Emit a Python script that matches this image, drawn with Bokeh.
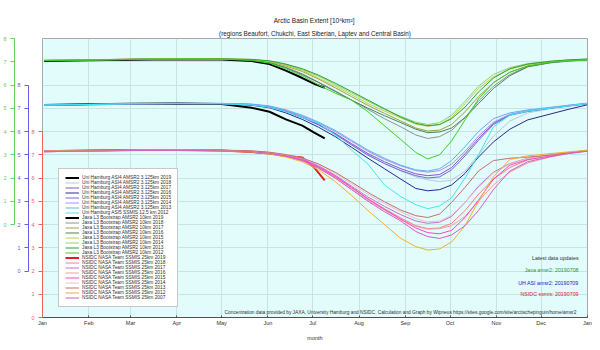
from bokeh.plotting import figure
from bokeh.models import Range1d, LinearAxis, FixedTicker, Title, Label, Legend, LegendItem, ColumnDataSource
from bokeh.embed import file_html
from bokeh.resources import INLINE

FONT = "Liberation Sans"

# ---- data (day of year, extent in 10^6 km^2) ----
days = [1, 30, 60, 90, 120, 140, 152, 163, 174, 185, 196, 207, 218, 229, 240, 250, 258, 266, 274, 283, 292, 302, 313, 325, 340, 352, 365]
days_2019 = [1, 30, 60, 90, 120, 140, 152, 163, 174, 182, 189]

month_ticks = [0, 31, 59, 90, 120, 151, 181, 212, 243, 273, 304, 334, 365]
month_labels = ["Jan", "Feb", "Mar", "Apr", "May", "Jun", "Jul", "Aug", "Sep", "Oct", "Nov", "Dec", "Jan"]

# Uni Hamburg (blue axis)
uh_2019 = [7.14, 7.17, 7.19, 7.20, 7.18, 7.02, 6.85, 6.52, 6.25, 5.95, 5.70]
uh_2018 = [7.12, 7.15, 7.18, 7.20, 7.20, 7.15, 7.05, 6.86, 6.60, 6.28, 5.90, 5.45, 5.00, 4.62, 4.30, 4.05, 3.92, 3.85, 3.90, 4.30, 5.00, 5.80, 6.45, 6.80, 6.98, 7.08, 7.18]
uh_2017 = [7.14, 7.16, 7.19, 7.20, 7.20, 7.16, 7.07, 6.88, 6.62, 6.30, 5.92, 5.48, 5.05, 4.70, 4.40, 4.18, 4.10, 4.15, 4.45, 5.05, 5.70, 6.35, 6.72, 6.88, 7.00, 7.10, 7.20]
uh_2016 = [7.13, 7.16, 7.18, 7.20, 7.19, 7.13, 7.02, 6.80, 6.52, 6.18, 5.78, 5.32, 4.85, 4.40, 3.95, 3.55, 3.45, 3.50, 3.70, 4.20, 4.90, 5.55, 6.10, 6.50, 6.75, 6.95, 7.15]
uh_2015 = [7.15, 7.17, 7.19, 7.21, 7.20, 7.16, 7.06, 6.86, 6.60, 6.28, 5.88, 5.42, 4.98, 4.62, 4.32, 4.10, 4.00, 4.05, 4.35, 4.95, 5.62, 6.30, 6.70, 6.86, 7.00, 7.10, 7.20]
uh_2014 = [7.14, 7.16, 7.19, 7.20, 7.20, 7.17, 7.08, 6.90, 6.66, 6.36, 6.00, 5.58, 5.15, 4.80, 4.52, 4.32, 4.25, 4.32, 4.60, 5.15, 5.80, 6.40, 6.74, 6.90, 7.02, 7.12, 7.21]
uh_2013 = [7.15, 7.17, 7.20, 7.21, 7.21, 7.18, 7.10, 6.93, 6.70, 6.40, 6.05, 5.62, 5.20, 4.85, 4.55, 4.35, 4.30, 4.40, 4.75, 5.35, 6.00, 6.55, 6.80, 6.93, 7.04, 7.13, 7.22]
uh_2012 = [7.13, 7.16, 7.19, 7.20, 7.19, 7.14, 7.04, 6.85, 6.60, 6.35, 5.85, 5.20, 4.60, 3.70, 3.20, 2.85, 2.68, 2.80, 3.15, 4.00, 5.00, 6.20, 6.70, 6.88, 7.00, 7.10, 7.20]

# Jaxa (green axis)
jaxa_2019 = [7.03, 7.06, 7.09, 7.11, 7.10, 7.03, 6.90, 6.62, 6.30, 6.05, 5.88]
jaxa_2018 = [7.05, 7.08, 7.10, 7.12, 7.12, 7.08, 6.97, 6.76, 6.48, 6.12, 5.75, 5.35, 4.95, 4.55, 4.20, 3.85, 3.70, 3.78, 4.05, 4.60, 5.30, 5.95, 6.45, 6.80, 6.95, 7.02, 7.08]
jaxa_2017 = [7.06, 7.08, 7.11, 7.12, 7.12, 7.09, 7.00, 6.82, 6.58, 6.25, 5.88, 5.50, 5.12, 4.78, 4.45, 4.15, 4.02, 4.06, 4.30, 4.85, 5.50, 6.10, 6.55, 6.82, 6.98, 7.05, 7.10]
jaxa_2016 = [7.05, 7.07, 7.10, 7.11, 7.11, 7.07, 6.96, 6.74, 6.45, 6.10, 5.72, 5.35, 5.00, 4.68, 4.38, 4.10, 3.95, 3.98, 4.15, 4.60, 5.20, 5.85, 6.40, 6.78, 6.96, 7.04, 7.08]
jaxa_2015 = [7.07, 7.09, 7.11, 7.12, 7.12, 7.10, 7.02, 6.86, 6.62, 6.30, 5.95, 5.58, 5.20, 4.88, 4.58, 4.32, 4.22, 4.30, 4.60, 5.20, 5.85, 6.35, 6.68, 6.88, 7.00, 7.06, 7.10]
jaxa_2014 = [7.06, 7.08, 7.10, 7.12, 7.12, 7.10, 7.03, 6.88, 6.66, 6.38, 6.02, 5.66, 5.30, 4.95, 4.65, 4.40, 4.30, 4.38, 4.70, 5.30, 5.95, 6.45, 6.75, 6.92, 7.02, 7.07, 7.11]
jaxa_2013 = [7.04, 7.07, 7.10, 7.11, 7.12, 7.10, 7.04, 6.90, 6.70, 6.42, 6.08, 5.72, 5.35, 4.98, 4.62, 4.35, 4.25, 4.30, 4.55, 5.05, 5.70, 6.30, 6.70, 6.90, 7.02, 7.08, 7.12]
jaxa_2012 = [7.05, 7.08, 7.10, 7.12, 7.11, 7.06, 6.94, 6.70, 6.40, 6.00, 5.65, 5.35, 4.85, 4.25, 3.65, 3.10, 2.82, 3.00, 3.60, 4.50, 5.40, 6.10, 6.55, 6.82, 6.98, 7.04, 7.08]

# NSIDC (red axis)
ns_2019 = [7.15, 7.18, 7.20, 7.20, 7.18, 7.12, 7.05, 6.95, 6.88, 6.45, 5.90]
ns_2018 = [7.14, 7.17, 7.19, 7.20, 7.18, 7.14, 7.08, 6.96, 6.78, 6.45, 6.05, 5.58, 5.10, 4.68, 4.28, 3.95, 3.82, 3.85, 4.05, 4.60, 5.30, 5.95, 6.45, 6.78, 6.95, 7.08, 7.17]
ns_2017 = [7.15, 7.18, 7.20, 7.20, 7.19, 7.15, 7.09, 6.98, 6.82, 6.52, 6.12, 5.65, 5.18, 4.78, 4.42, 4.15, 4.05, 4.10, 4.35, 4.95, 5.65, 6.25, 6.62, 6.85, 7.00, 7.10, 7.18]
ns_2016 = [7.13, 7.16, 7.19, 7.20, 7.18, 7.13, 7.06, 6.94, 6.75, 6.42, 6.00, 5.52, 5.05, 4.62, 4.22, 3.92, 3.80, 3.82, 3.95, 4.35, 5.00, 5.70, 6.25, 6.65, 6.90, 7.05, 7.16]
ns_2015 = [7.15, 7.17, 7.19, 7.20, 7.19, 7.15, 7.08, 6.96, 6.78, 6.48, 6.08, 5.60, 5.10, 4.65, 4.22, 3.85, 3.65, 3.60, 3.75, 4.30, 5.05, 5.95, 6.55, 6.80, 6.95, 7.08, 7.17]
ns_2014 = [7.16, 7.18, 7.20, 7.21, 7.19, 7.16, 7.10, 7.00, 6.85, 6.58, 6.20, 5.75, 5.30, 4.90, 4.55, 4.25, 4.12, 4.15, 4.40, 4.95, 5.60, 6.20, 6.60, 6.84, 6.98, 7.08, 7.18]
ns_2013 = [7.15, 7.18, 7.20, 7.21, 7.20, 7.17, 7.11, 7.01, 6.86, 6.60, 6.25, 5.82, 5.38, 4.98, 4.62, 4.38, 4.30, 4.45, 4.95, 5.60, 6.30, 6.75, 6.85, 6.90, 6.98, 7.08, 7.18]
ns_2012 = [7.14, 7.17, 7.19, 7.20, 7.18, 7.12, 7.04, 6.90, 6.70, 6.35, 5.85, 5.25, 4.60, 4.00, 3.40, 3.05, 2.90, 2.95, 3.25, 3.95, 5.00, 6.05, 6.80, 6.95, 7.05, 7.12, 7.20]
ns_2007 = [7.13, 7.16, 7.18, 7.19, 7.17, 7.13, 7.06, 6.94, 6.75, 6.42, 6.00, 5.50, 5.00, 4.55, 4.15, 3.70, 3.48, 3.40, 3.55, 3.95, 4.60, 5.50, 6.30, 6.70, 6.92, 7.05, 7.15]

uh_name = "Uni Hamburg ASI4 AMSR2 3.125km "
jx_name = "Jaxa L3 Bootstrap AMSR2 10km "
ns_name = "NSIDC NASA Team SSMIS 25km "

series = [
    (uh_name + "2019", days_2019, uh_2019, "blue", "#000000", 2.0),
    (uh_name + "2018", days, uh_2018, "blue", "#b8c8d8", 1.0),
    (uh_name + "2017", days, uh_2017, "blue", "#9050c8", 1.0),
    (uh_name + "2016", days, uh_2016, "blue", "#28288c", 1.0),
    (uh_name + "2015", days, uh_2015, "blue", "#6a6ad8", 1.0),
    (uh_name + "2014", days, uh_2014, "blue", "#a890f0", 1.0),
    (uh_name + "2013", days, uh_2013, "blue", "#60b0f0", 1.0),
    ("Uni Hamburg ASI5 SSMIS 12.5 km 2012", days, uh_2012, "blue", "#40e8f0", 1.0),
    (jx_name + "2019", days_2019, jaxa_2019, "green", "#000000", 2.0),
    (jx_name + "2018", days, jaxa_2018, "green", "#909090", 1.0),
    (jx_name + "2017", days, jaxa_2017, "green", "#a0a040", 1.0),
    (jx_name + "2016", days, jaxa_2016, "green", "#508060", 1.0),
    (jx_name + "2015", days, jaxa_2015, "green", "#c0d040", 1.0),
    (jx_name + "2014", days, jaxa_2014, "green", "#90d070", 1.0),
    (jx_name + "2013", days, jaxa_2013, "green", "#30a030", 1.0),
    (jx_name + "2012", days, jaxa_2012, "green", "#40d020", 1.0),
    (ns_name + "2019", days_2019, ns_2019, "default", "#e02020", 2.0),
    (ns_name + "2018", days, ns_2018, "default", "#f08080", 1.0),
    (ns_name + "2017", days, ns_2017, "default", "#c070d0", 1.0),
    (ns_name + "2016", days, ns_2016, "default", "#f0a0a0", 1.0),
    (ns_name + "2015", days, ns_2015, "default", "#ff40d0", 1.0),
    (ns_name + "2014", days, ns_2014, "default", "#f0c0c0", 1.0),
    (ns_name + "2013", days, ns_2013, "default", "#c07070", 1.0),
    (ns_name + "2012", days, ns_2012, "default", "#f0b030", 1.0),
    (ns_name + "2007", days, ns_2007, "default", "#d060c0", 1.0),
]

p = figure(width=600, height=350, output_backend="svg", toolbar_location=None, title=None,
           x_range=Range1d(0, 365), y_range=Range1d(0, 12),
           min_border_left=0, min_border_right=13, min_border_top=38, min_border_bottom=33)
p.extra_y_ranges = {"green": Range1d(-4, 8), "blue": Range1d(-2, 10)}
p.background_fill_color = "#e2fbfb"
p.border_fill_color = "white"
p.outline_line_color = "#a8a8a8"

# titles
p.add_layout(Title(text="(regions Beaufort, Chukchi, East Siberian, Laptev and Central Basin)",
                   align="center", text_font=FONT, text_font_size="6.3px", text_font_style="normal",
                   text_color="#202020", standoff=4, offset=0), "above")
p.add_layout(Title(text="Arctic Basin Extent  [10\u2076km\u00b2]", align="center", text_font=FONT,
                   text_font_size="6.5px", text_font_style="normal", text_color="#202020", standoff=3, offset=0), "above")

# grids
p.xgrid.ticker = FixedTicker(ticks=month_ticks)
p.ygrid.ticker = FixedTicker(ticks=list(range(0, 13)))
p.xgrid.grid_line_color = "#c6e4e4"
p.ygrid.grid_line_color = "#c6e4e4"

# x axis
xa = p.xaxis[0]
xa.ticker = FixedTicker(ticks=month_ticks)
xa.major_label_overrides = {t: l for t, l in zip(month_ticks, month_labels)}
xa.major_label_text_font = FONT
xa.major_label_text_font_size = "5.5px"
xa.major_label_text_color = "#303030"
xa.axis_label = "month"
xa.axis_label_text_font = FONT
xa.axis_label_text_font_size = "5.5px"
xa.axis_label_text_font_style = "normal"
xa.axis_label_text_color = "#303030"
xa.axis_label_standoff = 6
xa.major_label_standoff = 2
xa.minor_tick_line_color = None
xa.axis_line_color = "#505050"
xa.major_tick_line_color = "#505050"
xa.major_tick_in = 2
xa.major_tick_out = 0


def style_y(ax, color):
    ax.ticker = FixedTicker(ticks=list(range(0, 9)))
    ax.bounds = (0, 8)
    ax.axis_line_color = color
    ax.major_tick_line_color = color
    ax.major_label_text_color = color
    ax.major_label_text_font = FONT
    ax.major_label_text_font_size = "5.5px"
    ax.minor_tick_line_color = None
    ax.major_tick_in = 0
    ax.major_tick_out = 4
    ax.major_label_standoff = 4


style_y(p.yaxis[0], "#f06060")
blue_ax = LinearAxis(y_range_name="blue")
style_y(blue_ax, "#6060e0")
p.add_layout(blue_ax, "left")
green_ax = LinearAxis(y_range_name="green")
style_y(green_ax, "#60d060")
p.add_layout(green_ax, "left")

items = []
for label, xs, ys, rng, color, w in series:
    src = ColumnDataSource(dict(x=xs, y=ys))
    r = p.line("x", "y", source=src, y_range_name=rng, line_color=color, line_width=w)
    items.append(LegendItem(label=label, renderers=[r]))

legend = Legend(items=items, location=(16, 10), label_text_font=FONT, label_text_font_size="4.8px",
                label_height=5, glyph_height=5, glyph_width=14, spacing=0, padding=6, margin=0,
                label_width=81, label_standoff=3, border_line_color="#909090", background_fill_color="white",
                background_fill_alpha=1.0, label_text_color="#303030")
p.add_layout(legend, "center")

lab_kw = dict(text_font=FONT, text_align="right", text_baseline="middle")
p.add_layout(Label(x=359, y=2.58, text="Latest data updates", text_font_size="5.3px", text_color="#303030", **lab_kw))
p.add_layout(Label(x=359, y=2.04, text="Jaxa amsr2: 20190708", text_font_size="5.3px", text_color="#2a9a2a", **lab_kw))
p.add_layout(Label(x=359, y=1.50, text="UH ASI amsr2: 20190709", text_font_size="5.3px", text_color="#2020c0", **lab_kw))
p.add_layout(Label(x=359, y=1.01, text="NSIDC ssmis: 20190709", text_font_size="5.3px", text_color="#e02020", **lab_kw))
p.add_layout(Label(x=357.5, y=0.22,
                   text="Concentration data provided by JAXA, University Hamburg and NSIDC. Calculation and Graph by Wipneus https://sites.google.com/site/arctischepinguin/home/amsr2",
                   text_font_size="4.8px", text_color="#303030", **lab_kw))

open("out.html", "w").write(file_html(p, INLINE))
